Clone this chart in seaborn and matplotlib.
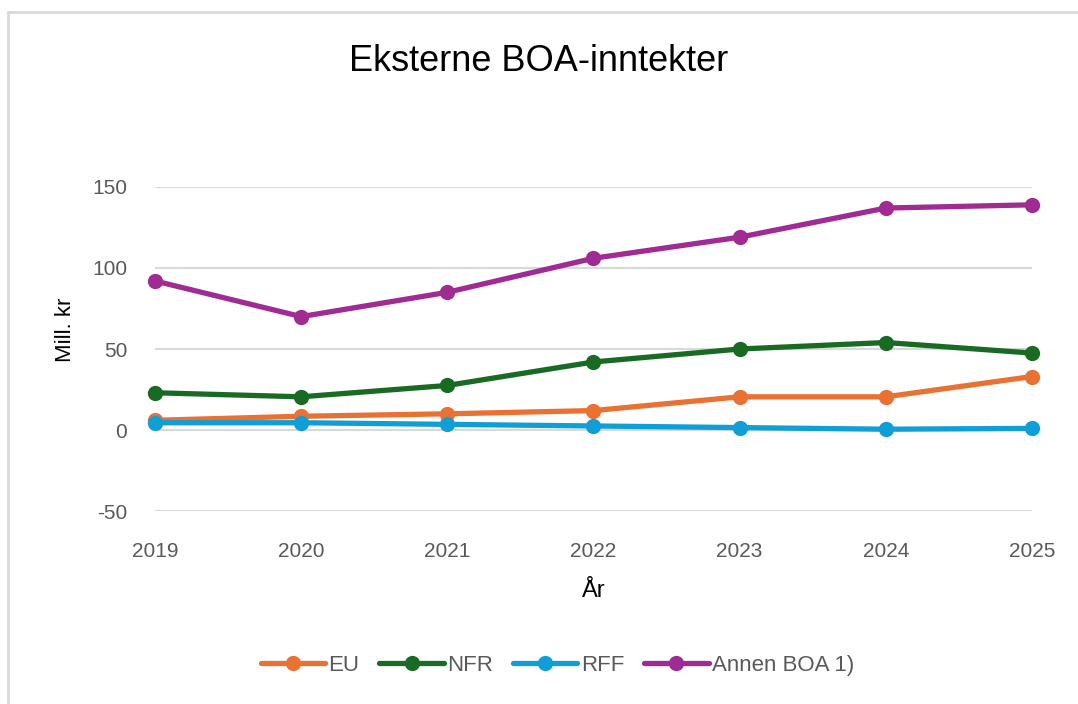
import pandas as pd
import seaborn as sns
import matplotlib.pyplot as plt
from matplotlib.lines import Line2D

years = [2019, 2020, 2021, 2022, 2023, 2024, 2025]
eu = [6, 8.5, 10, 12, 20.5, 20.5, 33]
nfr = [23, 20.5, 27.5, 42, 50, 54, 47.5]
rff = [4.5, 4.5, 3.5, 2.5, 1.5, 0.5, 1]
annen = [92, 70, 85, 106, 119, 137, 139]
series_names = ['EU', 'NFR', 'RFF', 'Annen BOA 1)']
colors = ['#E97132', '#196B24', '#0F9ED5', '#A02B93']

rows = []
for name, vals in zip(series_names, [eu, nfr, rff, annen]):
    for yr, v in zip(years, vals):
        rows.append({'year': yr, 'value': v, 'serie': name})
df = pd.DataFrame(rows)

sns.set_style('white')
plt.rcParams['font.family'] = ['Liberation Sans', 'DejaVu Sans']
plt.rcParams['axes.unicode_minus'] = False

fig = plt.figure(figsize=(10.78, 7.04), dpi=100)
ax = fig.add_axes([0.1438, 0.2741, 0.8135, 0.4603])

sns.lineplot(data=df, x='year', y='value', hue='serie', palette=colors,
             marker='o', markersize=11, markeredgewidth=0, linewidth=3.8,
             ax=ax, legend=False)
for ln in ax.lines:
    ln.set_clip_on(False)

ax.set_xlim(2019, 2025)
ax.set_ylim(-50, 150)
ax.set_yticks([-50, 0, 50, 100, 150])
ax.set_xticks(years)
ax.grid(axis='y', color='#D9D9D9', linewidth=1.5)
ax.set_axisbelow(True)
for s in ax.spines.values():
    s.set_visible(False)
ax.tick_params(axis='both', length=0, labelsize=15, labelcolor='#595959')
ax.tick_params(axis='x', pad=22)
ax.tick_params(axis='y', pad=20)

ax.set_xlabel('År', fontsize=17, color='black', labelpad=14)
ax.set_ylabel('Mill. kr', fontsize=16, color='black', labelpad=14)
ax.yaxis.set_label_coords(-0.09, 0.56)

fig.text(0.5, 0.912, 'Eksterne BOA-inntekter', ha='center', va='center',
         fontsize=26, color='black')

handles = [Line2D([0], [0], color=c, linewidth=3.8, marker='o', markersize=11,
                  markeredgewidth=0) for c in colors]
leg = fig.legend(handles, series_names, loc='center', bbox_to_anchor=(0.517, 0.055),
                 ncol=4, frameon=False, fontsize=16, handlelength=2.9,
                 columnspacing=0.9, handletextpad=0.15)
for t in leg.get_texts():
    t.set_color('#595959')

# chart frame (top and left edge)
fig.add_artist(Line2D([0.0074, 1.0], [0.983, 0.983], color='#D9D9D9', linewidth=2,
                      transform=fig.transFigure))
fig.add_artist(Line2D([0.0074, 0.0074], [0.0, 0.983], color='#D9D9D9', linewidth=2,
                      transform=fig.transFigure))

fig.savefig('out.png', dpi=100, facecolor='white')
